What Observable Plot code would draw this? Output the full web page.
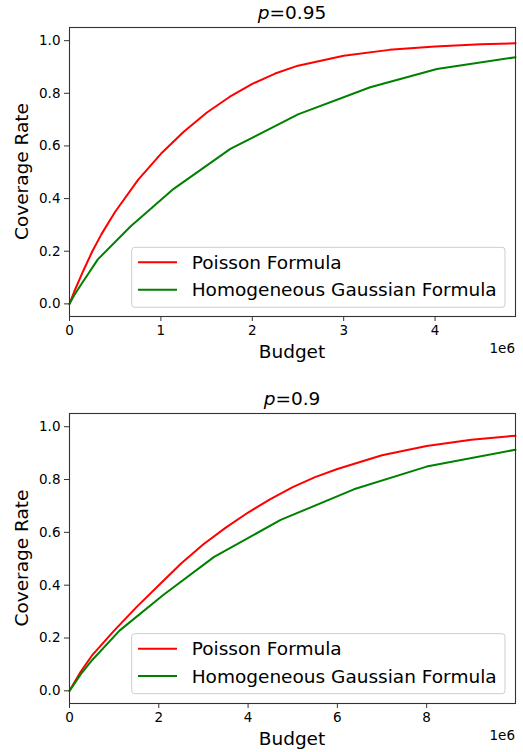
<!DOCTYPE html>
<html><head><meta charset="utf-8">
<script src="https://cdn.jsdelivr.net/npm/d3@7"></script>
<script src="https://cdn.jsdelivr.net/npm/@observablehq/plot@0.6"></script>
<style>
body{margin:0;background:#fff;}
#c{position:relative;width:523px;height:752px;background:#fff;}
#c svg{display:block;}
</style>
</head><body><div id="c"></div>
<script>
// ---- Data (budget in units of 1e6) ----
const seriesNames = ["Poisson Formula", "Homogeneous Gaussian Formula"];
const seriesColors = ["red", "green"];

// p = 0.95
const poisson95X = [0,0.05,0.15,0.25,0.35,0.5,0.75,1.0,1.25,1.5,1.75,2.0,2.25,2.5,3.0,3.5,4.0,4.5,4.88];
const poisson95Y = [0,0.045,0.125,0.2,0.265,0.35,0.471,0.57,0.654,0.726,0.786,0.836,0.875,0.905,0.943,0.965,0.978,0.986,0.99];
const gauss95X = [0,0.05,0.12,0.31,0.67,1.14,1.76,2.5,3.29,4.02,4.88];
const gauss95Y = [0,0.032,0.07,0.169,0.295,0.437,0.589,0.72,0.823,0.892,0.937];

// p = 0.9
const poisson90X = [0,0.25,0.5,1.0,1.5,2.0,2.5,3.0,3.5,4.0,4.5,5.0,5.5,6.0,7.0,8.0,9.0,9.99];
const poisson90Y = [0,0.072,0.133,0.228,0.317,0.4,0.482,0.555,0.618,0.675,0.726,0.771,0.809,0.84,0.892,0.927,0.951,0.966];
const gauss90X = [0,0.25,0.5,1.12,2.1,3.24,4.73,6.37,8.0,9.99];
const gauss90Y = [0,0.062,0.115,0.228,0.363,0.507,0.647,0.763,0.849,0.913];

const yTicks = [0,0.2,0.4,0.6,0.8,1.0];
const xTicks95 = [0,1,2,3,4];
const xTicks90 = [0,2,4,6,8];
const xDomain95 = [0,4.88];
const xDomain90 = [0,9.99];
const yDomain = [-0.048,1.05];

const toRows = (xs, ys) => xs.map((x,i)=>({x, y: ys[i]}));

function panel(cfg){
  const W = 523, H = 376, ML = 69, MR = 8;
  const svg = Plot.plot({
    width: W, height: H,
    marginLeft: ML, marginRight: MR, marginTop: cfg.mt, marginBottom: cfg.mb,
    style: {fontFamily: "DejaVu Sans", fontSize: "13.5px", background: "white", color: "black", overflow: "visible"},
    x: {domain: cfg.xDomain, label: null},
    y: {domain: yDomain, label: null},
    marks: [
      Plot.axisX({ticks: cfg.xTicks, tickFormat: d => String(d), tickSize: 5, tickPadding: 4, stroke: "#333", label: null}),
      Plot.axisY({ticks: yTicks, tickFormat: d3.format(".1f"), tickSize: 5, tickPadding: 4, stroke: "#333", label: null}),
      ...cfg.series.map((s,i) => Plot.line(toRows(s[0], s[1]), {x: "x", y: "y", stroke: seriesColors[i], strokeWidth: 2})),
      Plot.frame({stroke: "#333", strokeWidth: 1.1})
    ]
  });
  const g = d3.select(svg).append("g").attr("font-family", "DejaVu Sans").attr("fill", "black");
  const cx = ML + (W - ML - MR)/2;
  const cy = cfg.mt + (H - cfg.mt - cfg.mb)/2;
  // title
  const t = g.append("text").attr("x", cx).attr("y", cfg.titleY).attr("text-anchor","middle").attr("font-size", 18.5);
  t.append("tspan").attr("font-style","italic").text("p");
  t.append("tspan").text("=" + cfg.p);
  // axis labels
  g.append("text").attr("x", cx).attr("y", cfg.budgetY).attr("text-anchor","middle").attr("font-size",18.5).text("Budget");
  g.append("text").attr("x", W - MR).attr("y", cfg.expY).attr("text-anchor","end").attr("font-size",13.5).text("1e6");
  g.append("text").attr("transform", `translate(28,${cy}) rotate(-90)`).attr("text-anchor","middle").attr("font-size",18.5).text("Coverage Rate");
  // legend
  const lg = g.append("g");
  lg.append("rect").attr("x",131.7).attr("y",cfg.legY).attr("width",373.3).attr("height",60)
    .attr("rx",3).attr("fill","white").attr("fill-opacity",0.8).attr("stroke","#cccccc").attr("stroke-width",1);
  seriesNames.forEach((name,i)=>{
    const ly = cfg.legY + 15 + i*27.4;
    lg.append("line").attr("x1",138).attr("x2",177).attr("y1",ly).attr("y2",ly).attr("stroke",seriesColors[i]).attr("stroke-width",2);
    lg.append("text").attr("x",191.7).attr("y",ly+6.5).attr("text-anchor","start").attr("font-size",18.5).text(name);
  });
  return svg;
}

const c = document.getElementById("c");
c.appendChild(panel({p:"0.95", mt:27, mb:60, xDomain:xDomain95, xTicks:xTicks95,
  series:[[poisson95X,poisson95Y],[gauss95X,gauss95Y]], titleY:18.8, budgetY:358, expY:353, legY:247.3}));
c.appendChild(panel({p:"0.9", mt:37, mb:49, xDomain:xDomain90, xTicks:xTicks90,
  series:[[poisson90X,poisson90Y],[gauss90X,gauss90Y]], titleY:29.3, budgetY:369, expY:364, legY:257.7}));
</script></body></html>
